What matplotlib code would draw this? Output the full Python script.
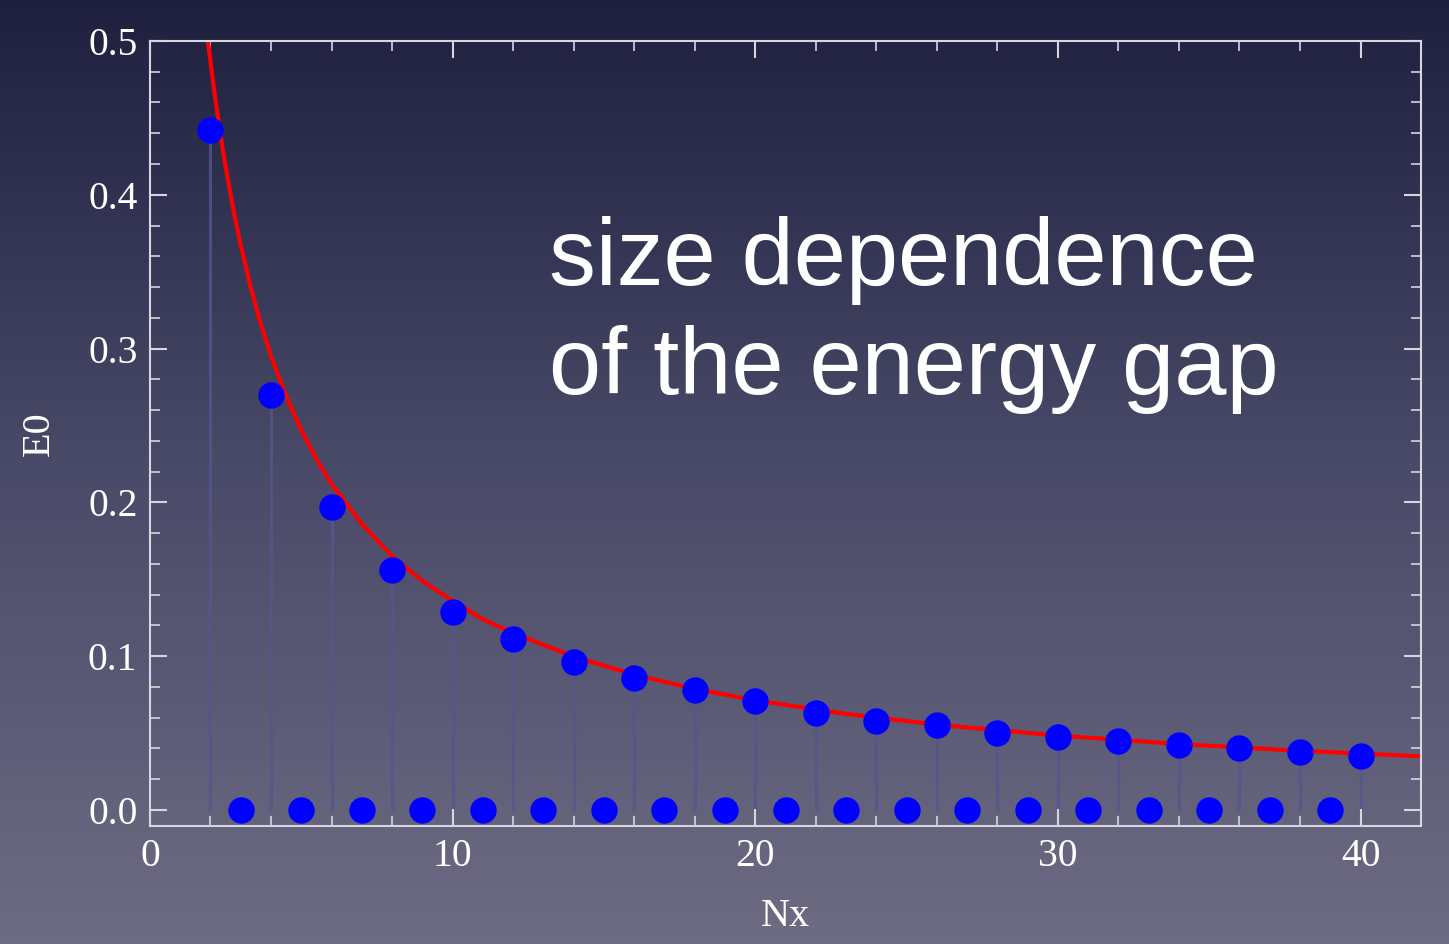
import matplotlib
matplotlib.use('Agg')
import matplotlib.pyplot as plt
import numpy as np
from matplotlib.colors import LinearSegmentedColormap
from matplotlib.ticker import MultipleLocator

# even sizes: gap values
nx_even = [2, 4, 6, 8, 10, 12, 14, 16, 18, 20, 22, 24, 26, 28, 30, 32, 34, 36, 38, 40]
e0_even = [0.442, 0.270, 0.197, 0.156, 0.129, 0.111, 0.096, 0.086, 0.078, 0.071,
           0.063, 0.058, 0.055, 0.050, 0.0475, 0.045, 0.0425, 0.040, 0.0375, 0.035]

# odd sizes: gap closes
nx_odd = [3, 5, 7, 9, 11, 13, 15, 17, 19, 21, 23, 25, 27, 29, 31, 33, 35, 37, 39]
e0_odd = [0.0] * len(nx_odd)

# fitted curve
fit_x = [1.9, 2.1, 2.25, 2.4, 2.6, 2.8, 3.0, 3.3, 3.6, 4.0, 4.5, 5.0, 5.5, 6.0, 7.0,
         8.0, 9.0, 10.0, 11.0, 12.0, 14.0, 16.0, 18.0, 20.0, 23.0, 26.0, 30.0, 34.0, 38.0, 42.0]
fit_y = [0.502, 0.471, 0.450, 0.430, 0.407, 0.386, 0.367, 0.342, 0.320, 0.295, 0.269,
         0.247, 0.228, 0.212, 0.186, 0.165, 0.149, 0.136, 0.124, 0.115, 0.0997, 0.088,
         0.0788, 0.0713, 0.0625, 0.0555, 0.0484, 0.0429, 0.0385, 0.0349]

title_lines = ['size dependence', 'of the energy gap']

fig = plt.figure(figsize=(14.49, 9.44), dpi=100)

# slide-like gradient background
bg = fig.add_axes([0, 0, 1, 1], zorder=-10)
cmap = LinearSegmentedColormap.from_list('bg', ['#1f203f', '#4a4a69', '#6e6c83'])
bg.imshow(np.linspace(0, 1, 256).reshape(-1, 1), aspect='auto', cmap=cmap,
          extent=[0, 1, 0, 1])
bg.axis('off')

ax = fig.add_axes([0.1035, 0.125, 0.8772, 0.8316])
ax.set_facecolor('none')

spine_col = '#d6d6de'
for s in ax.spines.values():
    s.set_color(spine_col)
    s.set_linewidth(1.5)

ax.vlines(nx_even, 0, e0_even, color='#55558e', lw=2.2, alpha=0.8, zorder=1)
ax.plot(fit_x, fit_y, color='#ff0000', lw=3, zorder=2, solid_capstyle='butt')
ax.plot(nx_even, e0_even, 'o', color='#0000ff', ms=18, mec='#0000ff', zorder=3, clip_on=False)
ax.plot(nx_odd, e0_odd, 'o', color='#0000ff', ms=18, mec='#0000ff', zorder=3, clip_on=False)

ax.set_xlim(0, 42)
ax.set_ylim(-0.0104, 0.5)
ax.xaxis.set_major_locator(MultipleLocator(10))
ax.xaxis.set_minor_locator(MultipleLocator(2))
ax.yaxis.set_major_locator(MultipleLocator(0.1))
ax.yaxis.set_minor_locator(MultipleLocator(0.02))
ax.yaxis.set_major_formatter(plt.FuncFormatter(lambda v, p: '%.1f' % v))

ax.tick_params(which='both', direction='in', top=True, right=True, colors=spine_col,
               labelcolor='white', labelsize=28.5)
ax.tick_params(which='major', length=12, width=1.5, pad=9)
ax.tick_params(which='minor', length=7, width=1.2)
for lab in ax.get_xticklabels() + ax.get_yticklabels():
    lab.set_family('Liberation Serif')

ax.set_xlabel('Nx', color='white', fontsize=29, family='Liberation Serif', labelpad=16)
ax.set_ylabel('E0', color='white', fontsize=29, family='Liberation Serif', labelpad=22)

# two text lines, baselines placed in figure pixels
for line, ypx in zip(title_lines, [285, 394]):
    fig.text(549 / 1449, 1 - ypx / 944, line, color='white', fontsize=67.5,
             family='Liberation Sans', ha='left', va='baseline')

fig.savefig('out.png', dpi=100)
